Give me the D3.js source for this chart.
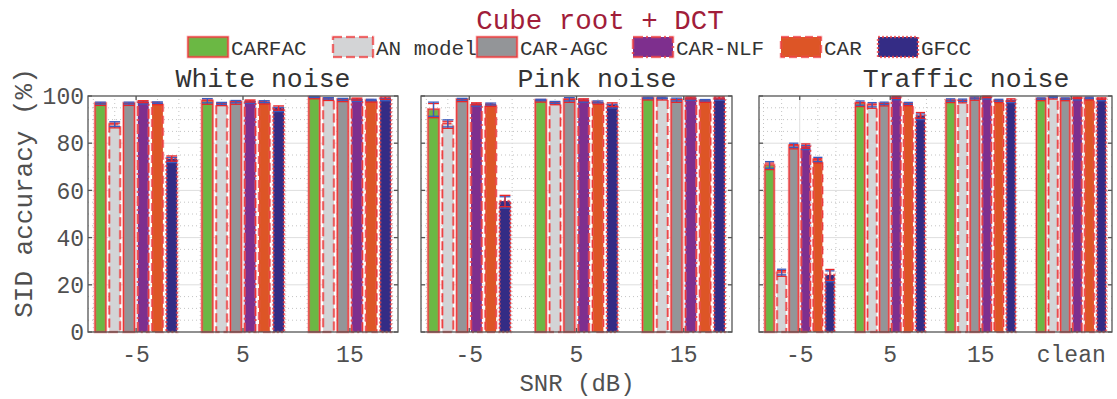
<!DOCTYPE html>
<html>
<head>
<meta charset="utf-8">
<script src="https://cdn.jsdelivr.net/npm/d3@7"></script>
<style>
  html, body { margin: 0; padding: 0; background: #fff; }
  svg { display: block; font-family: "Liberation Mono", "DejaVu Sans Mono", monospace; }
</style>
</head>
<body>
<svg id="chart" width="1117" height="399"></svg>
<script>
// Feature sets compared
const series = ["CARFAC", "AN model", "CAR-AGC", "CAR-NLF", "CAR", "GFCC"];

// SNR conditions per noise type
const snrWhite = ["-5", "5", "15"];
const snrPink = ["-5", "5", "15"];
const snrTraffic = ["-5", "5", "15", "clean"];

// SID accuracy (%) — one row per SNR condition, one value per feature set
const accWhite = [
  [97.0, 88.1, 97.0, 97.6, 97.2, 73.5],
  [98.0, 96.9, 97.6, 97.9, 97.6, 94.9],
  [99.6, 99.0, 98.6, 98.7, 98.3, 99.1]
];
const errWhite = [
  [0.4, 1.0, 0.4, 0.4, 0.3, 1.1],
  [0.9, 0.4, 0.5, 0.4, 0.4, 0.9],
  [0.2, 0.3, 0.4, 0.4, 0.3, 0.5]
];
const accPink = [
  [94.4, 88.4, 98.6, 96.7, 96.6, 55.5],
  [98.3, 97.3, 98.6, 98.4, 97.5, 96.3],
  [99.2, 99.2, 98.5, 99.2, 98.2, 99.2]
];
const errPink = [
  [3.0, 1.5, 0.4, 0.4, 0.4, 2.4],
  [0.3, 0.4, 0.7, 0.4, 0.4, 0.8],
  [0.3, 0.3, 0.6, 0.4, 0.3, 0.4]
];
const accTraffic = [
  [70.8, 25.4, 79.1, 78.8, 73.1, 24.2],
  [97.0, 96.3, 96.9, 99.4, 96.9, 91.8],
  [98.3, 98.2, 99.2, 99.6, 98.2, 98.3],
  [98.9, 99.6, 98.9, 99.2, 99.2, 98.9]
];
const errTraffic = [
  [1.4, 1.2, 0.9, 0.9, 0.9, 2.3],
  [0.9, 0.9, 0.5, 0.4, 0.4, 1.2],
  [0.5, 0.5, 0.4, 0.3, 0.4, 0.5],
  [0.3, 0.3, 0.3, 0.3, 0.3, 0.3]
];

const yTicks = [0, 20, 40, 60, 80, 100];

// Styling per feature set
const fills = ["#6bb844", "#d3d4d6", "#939598", "#7e2f8e", "#dd5526", "#342c85"];
const edgeDash = [null, "9,4", null, "10,3,2,3", "8,4", "2,2"];
const errMain = ["#3a5bbf", "#3a5bbf", "#3a5bbf", "#e8262a", "#3a5bbf", "#e8262a"];
const errAlt = ["#e8262a", "#e8262a", "#e8262a", "#3a5bbf", "#e8262a", "#3a5bbf"];

const svg = d3.select("#chart");
const axisColor = "#555";
const textColor = "#505050";

const y = d3.scaleLinear().domain([0, 100]).range([332, 96]);

const panels = [
  { title: "White noise", cats: snrWhite, acc: accWhite, err: errWhite, x0: 88, x1: 398, tx: 263, labels: true },
  { title: "Pink noise", cats: snrPink, acc: accPink, err: errPink, x0: 421, x1: 732, tx: 597, labels: false },
  { title: "Traffic noise", cats: snrTraffic, acc: accTraffic, err: errTraffic, x0: 759, x1: 1112, tx: 966, labels: false }
];

const nS = series.length;
const groupW = 0.8;
const slot = groupW / nS;
const barW = slot * 0.76;

function drawBarRect(g, x, yTop, w, h, i) {
  // soft pink halo then thin red edge, both in the series' line style
  g.append("rect")
    .attr("x", x).attr("y", yTop).attr("width", w).attr("height", h)
    .attr("fill", fills[i])
    .attr("stroke", "rgba(236,96,100,0.6)")
    .attr("stroke-width", 2.6)
    .attr("stroke-dasharray", edgeDash[i]);
  g.append("rect")
    .attr("x", x).attr("y", yTop).attr("width", w).attr("height", h)
    .attr("fill", "none")
    .attr("stroke", "#ee2a2a")
    .attr("stroke-width", 0.9)
    .attr("stroke-dasharray", edgeDash[i]);
}

panels.forEach(p => {
  const n = p.cats.length;
  const x = d3.scaleLinear().domain([0.55, n + 0.45]).range([p.x0, p.x1]);
  const g = svg.append("g");

  // minor grid (dotted)
  const yMinor = d3.range(5, 100, 5).filter(v => v % 20 !== 0);
  g.selectAll(".ymin").data(yMinor).enter().append("line")
    .attr("x1", p.x0).attr("x2", p.x1)
    .attr("y1", d => y(d)).attr("y2", d => y(d))
    .attr("stroke", "#c4c4c4").attr("stroke-width", 1).attr("stroke-dasharray", "1,3");
  const xMinor = d3.range(0.6, n + 0.45, 0.2).filter(v => Math.abs(v - Math.round(v)) > 0.05);
  g.selectAll(".xmin").data(xMinor).enter().append("line")
    .attr("x1", d => x(d)).attr("x2", d => x(d))
    .attr("y1", y(0)).attr("y2", y(100))
    .attr("stroke", "#c4c4c4").attr("stroke-width", 1).attr("stroke-dasharray", "1,3");

  // major grid
  g.selectAll(".ymaj").data(yTicks.slice(1, -1)).enter().append("line")
    .attr("x1", p.x0).attr("x2", p.x1)
    .attr("y1", d => y(d)).attr("y2", d => y(d))
    .attr("stroke", "#dedede").attr("stroke-width", 1);
  g.selectAll(".xmaj").data(d3.range(1, n + 1)).enter().append("line")
    .attr("x1", d => x(d)).attr("x2", d => x(d))
    .attr("y1", y(0)).attr("y2", y(100))
    .attr("stroke", "#dedede").attr("stroke-width", 1);

  // bars
  p.acc.forEach((row, gi) => {
    row.forEach((v, si) => {
      const c = gi + 1 - groupW / 2 + (si + 0.5) * slot;
      const bx = x(c - barW / 2);
      const bw = x(c + barW / 2) - bx;
      drawBarRect(g, bx, y(v), bw, y(0) - y(v), si);
    });
  });

  // error bars
  p.acc.forEach((row, gi) => {
    row.forEach((v, si) => {
      const e = p.err[gi][si];
      const c = gi + 1 - groupW / 2 + (si + 0.5) * slot;
      const cx = x(c);
      const half = (x(c + barW / 2) - x(c - barW / 2)) / 2;
      const top = Math.min(v + e, 100.3);
      [[errAlt[si], 1.4], [errMain[si], 0]].forEach(([col, off]) => {
        const eg = g.append("g").attr("stroke", col).attr("stroke-width", 1.3);
        eg.append("line").attr("x1", cx).attr("x2", cx).attr("y1", y(top) + off).attr("y2", y(v - e) + off);
        eg.append("line").attr("x1", cx - half).attr("x2", cx + half).attr("y1", y(top) + off).attr("y2", y(top) + off);
        eg.append("line").attr("x1", cx - half).attr("x2", cx + half).attr("y1", y(v - e) + off).attr("y2", y(v - e) + off);
      });
    });
  });

  // box
  g.append("rect")
    .attr("x", p.x0).attr("y", y(100)).attr("width", p.x1 - p.x0).attr("height", y(0) - y(100))
    .attr("fill", "none").attr("stroke", axisColor).attr("stroke-width", 1.3);

  // inward ticks
  const tl = 4;
  yTicks.forEach(t => {
    g.append("line").attr("x1", p.x0).attr("x2", p.x0 + tl).attr("y1", y(t)).attr("y2", y(t))
      .attr("stroke", axisColor).attr("stroke-width", 1.3);
    g.append("line").attr("x1", p.x1).attr("x2", p.x1 - tl).attr("y1", y(t)).attr("y2", y(t))
      .attr("stroke", axisColor).attr("stroke-width", 1.3);
  });
  d3.range(1, n + 1).forEach(t => {
    g.append("line").attr("x1", x(t)).attr("x2", x(t)).attr("y1", y(0)).attr("y2", y(0) - tl)
      .attr("stroke", axisColor).attr("stroke-width", 1.3);
    g.append("line").attr("x1", x(t)).attr("x2", x(t)).attr("y1", y(100)).attr("y2", y(100) + tl)
      .attr("stroke", axisColor).attr("stroke-width", 1.3);
  });

  // x tick labels
  p.cats.forEach((lab, i) => {
    g.append("text").attr("x", x(i + 1)).attr("y", 362)
      .attr("text-anchor", "middle").attr("font-size", 23).attr("fill", textColor)
      .text(lab);
  });

  // y tick labels (first panel only)
  if (p.labels) {
    yTicks.forEach(t => {
      g.append("text").attr("x", p.x0 - 4).attr("y", y(t)).attr("dy", "0.36em")
        .attr("text-anchor", "end").attr("font-size", 23).attr("fill", textColor)
        .text(t);
    });
  }

  // panel title
  g.append("text").attr("x", p.tx).attr("y", 87)
    .attr("text-anchor", "middle").attr("font-size", 26.5).attr("fill", "#333")
    .text(p.title);
});

// axis labels
svg.append("text")
  .attr("transform", "translate(32,193) rotate(-90)")
  .attr("text-anchor", "middle").attr("font-size", 26).attr("fill", textColor)
  .text("SID accuracy (%)");
svg.append("text").attr("x", 577).attr("y", 391)
  .attr("text-anchor", "middle").attr("font-size", 24).attr("fill", textColor)
  .text("SNR (dB)");

// figure title
svg.append("text").attr("x", 600).attr("y", 29)
  .attr("text-anchor", "middle").attr("font-size", 27.5).attr("fill", "#a11d3a")
  .text("Cube root + DCT");

// legend: swatches first, then labels on top
const legendX = [188, 333, 477, 633, 781, 878];
const leg = svg.append("g");
series.forEach((s, i) => drawBarRect(leg, legendX[i], 37, 40, 20, i));
series.forEach((s, i) => {
  leg.append("text").attr("x", legendX[i] + 43).attr("y", 55)
    .attr("font-size", 21).attr("fill", "#333")
    .text(s);
});
</script>
</body>
</html>
